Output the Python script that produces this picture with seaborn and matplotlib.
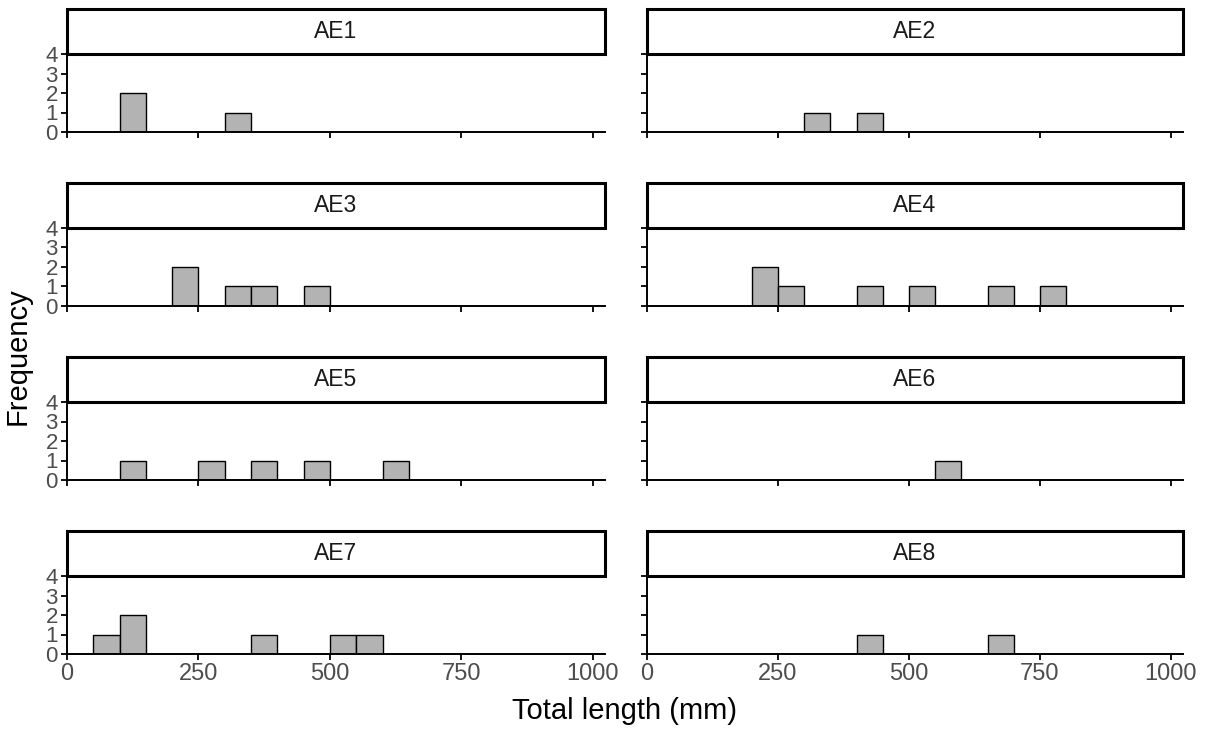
import matplotlib
matplotlib.use("Agg")
import matplotlib.pyplot as plt
from matplotlib.patches import Rectangle
import pandas as pd
import seaborn as sns

# Total lengths (mm) per site, one entry per fish (read as bin centres)
sites = ["AE1", "AE2", "AE3", "AE4", "AE5", "AE6", "AE7", "AE8"]
ae1 = [125, 125, 325]
ae2 = [325, 425]
ae3 = [225, 225, 325, 375, 475]
ae4 = [225, 225, 275, 425, 525, 675, 775]
ae5 = [125, 275, 375, 475, 625]
ae6 = [575]
ae7 = [75, 125, 125, 375, 525, 575]
ae8 = [425, 675]
x_ticks = [0, 250, 500, 750, 1000]
y_ticks = [0, 1, 2, 3, 4]

lengths = [ae1, ae2, ae3, ae4, ae5, ae6, ae7, ae8]
df = pd.DataFrame({
    "site": [s for s, vals in zip(sites, lengths) for _ in vals],
    "length": [v for vals in lengths for v in vals],
})

sns.set_style("ticks")
plt.rcParams["font.family"] = ["Liberation Sans", "DejaVu Sans"]

W, H = 1207, 730
fig = plt.figure(figsize=(W / 100, H / 100), dpi=100)

# panel geometry in pixels
col_x = [(67, 605), (647, 1183)]
row_pitch = 174
panel_top0, panel_bot0 = 54, 132
strip_h = 45
panel_h = panel_bot0 - panel_top0

for i, site in enumerate(sites):
    row, col = divmod(i, 2)
    x0, x1 = col_x[col]
    bottom = panel_bot0 + row * row_pitch
    ax = fig.add_axes([x0 / W, 1 - bottom / H, (x1 - x0) / W, panel_h / H])

    sub = df[df["site"] == site]
    sns.histplot(data=sub, x="length", ax=ax, binwidth=50, binrange=(0, 1000),
                 color="#b3b3b3", edgecolor="black", linewidth=1.0, alpha=1)

    ax.set_xlim(0, 1023)
    ax.set_ylim(0, 4)
    ax.set_xticks(x_ticks)
    ax.set_yticks(y_ticks)
    ax.set_xlabel("")
    ax.set_ylabel("")
    ax.spines["top"].set_visible(False)
    ax.spines["right"].set_visible(False)
    for side in ["left", "bottom"]:
        ax.spines[side].set_linewidth(1.4)
        ax.spines[side].set_color("black")
    ax.tick_params(direction="out", length=4.5, width=1.3, color="black",
                   labelcolor="#4d4d4d", pad=2)
    ax.tick_params(axis="x", labelsize=17)
    ax.tick_params(axis="y", labelsize=16, pad=2)
    if row < 3:
        ax.tick_params(axis="x", labelbottom=False)
    if col == 1:
        ax.tick_params(axis="y", labelleft=False)

    # facet strip
    ax.add_patch(Rectangle((0, 1), 1, strip_h / panel_h, transform=ax.transAxes,
                           clip_on=False, facecolor="white", edgecolor="black",
                           linewidth=2.2, zorder=5))
    ax.text(0.5, 1 + strip_h / 2 / panel_h, site, transform=ax.transAxes,
            ha="center", va="center", fontsize=16.5, color="#1a1a1a", zorder=6)

fig.text(625 / W, 1 - 711 / H, "Total length (mm)", ha="center", va="center",
         fontsize=21, color="black")
fig.text(18 / W, 1 - 356 / H, "Frequency", ha="center", va="center",
         rotation=90, fontsize=21, color="black")

fig.savefig("out.png", dpi=100)
